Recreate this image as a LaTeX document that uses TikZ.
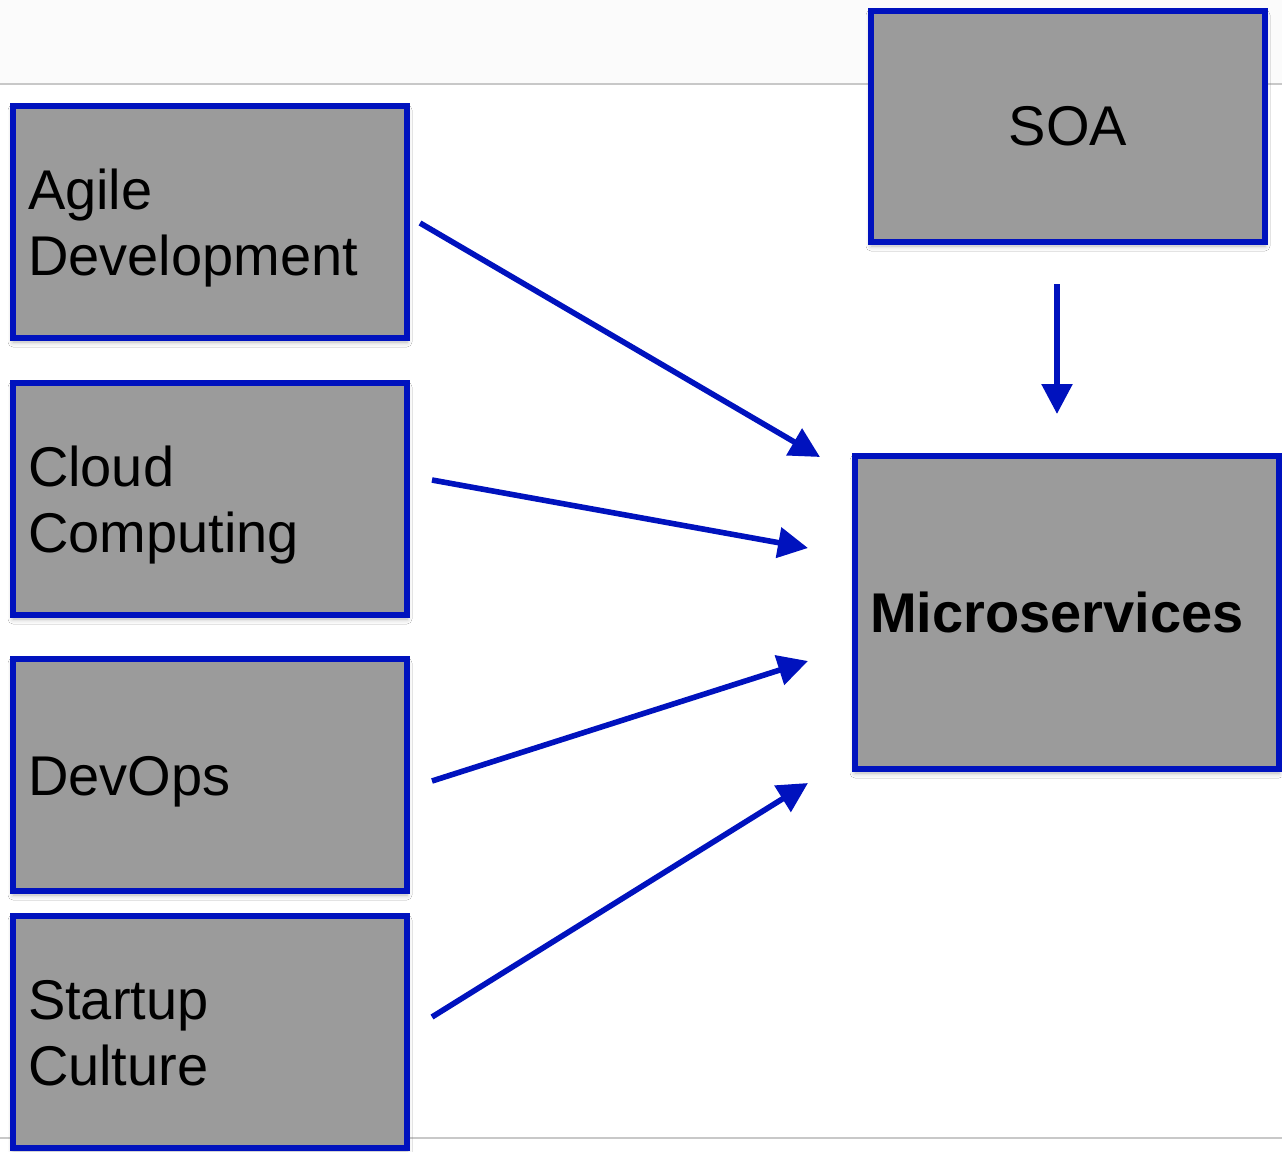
\documentclass[tikz,border=0pt]{standalone}
\usepackage{fontspec}
\setmainfont{Liberation Sans}
\usetikzlibrary{arrows.meta,shadows.blur}
\definecolor{boxblue}{RGB}{0,18,190}
\definecolor{boxgray}{RGB}{155,155,155}
\definecolor{rulegray}{RGB}{200,200,200}
\definecolor{bandgray}{RGB}{251,251,251}

\begin{document}
\begin{tikzpicture}[x=0.5pt,y=-0.5pt,
  box/.style={rectangle, draw=boxblue, line width=3pt, fill=boxgray, inner sep=0pt,
    blur shadow={shadow xshift=0pt, shadow yshift=-2pt, shadow blur radius=2.5pt, shadow opacity=30},
    font=\fontsize{28}{33}\selectfont},
  % fixed line metrics so one- and two-line labels sit alike
  sidebox/.style={box, minimum width=197pt, minimum height=116pt, text width=182pt, align=left,
    execute at begin node={\rule{0pt}{27pt}},
    execute at end node={\rule[-6.5pt]{0pt}{0pt}}},
  arr/.style={draw=boxblue, line width=2.8pt, -{Triangle[length=15pt,width=15pt]}}]

  % page and rules
  \useasboundingbox (0,0) rectangle (1282,1152);
  \fill[white] (0,0) rectangle (1282,1152);
  \fill[bandgray] (0,0) rectangle (1282,84);
  \draw[rulegray, line width=0.75pt] (0,84) -- (1282,84);
  \draw[rulegray, line width=0.75pt] (0,1138) -- (1282,1138);

  % source boxes
  \node[sidebox] (agile)   at (210,222)  {Agile\\Development};
  \node[sidebox] (cloud)   at (210,499)  {Cloud\\Computing};
  \node[sidebox] (devops)  at (210,775)  {DevOps};
  \node[sidebox] (startup) at (210,1032) {Startup\\Culture};

  \node[box, minimum width=197pt, minimum height=115.5pt] (soa) at (1068,126.5) {SOA};
  \node[box, minimum width=212pt, minimum height=156.5pt, text width=197pt, align=left,
        font=\fontsize{28}{33}\selectfont\bfseries] (micro) at (1067,612.5) {Microservices};

  % arrow targets
  \coordinate (t1) at (820,457);
  \coordinate (t2) at (808,548);
  \coordinate (t3) at (808,661);
  \coordinate (t4) at (808,783);
  \coordinate (t5) at (1057,414);

  \draw[arr] ([shift={(10,1)}]agile.east)    -- (t1);
  \draw[arr] ([shift={(22,-19)}]cloud.east)  -- (t2);
  \draw[arr] ([shift={(22,6)}]devops.east)   -- (t3);
  \draw[arr] ([shift={(22,-15)}]startup.east) -- (t4);
  \draw[arr] ([shift={(-11,39)}]soa.south)   -- (t5);
\end{tikzpicture}
\end{document}
